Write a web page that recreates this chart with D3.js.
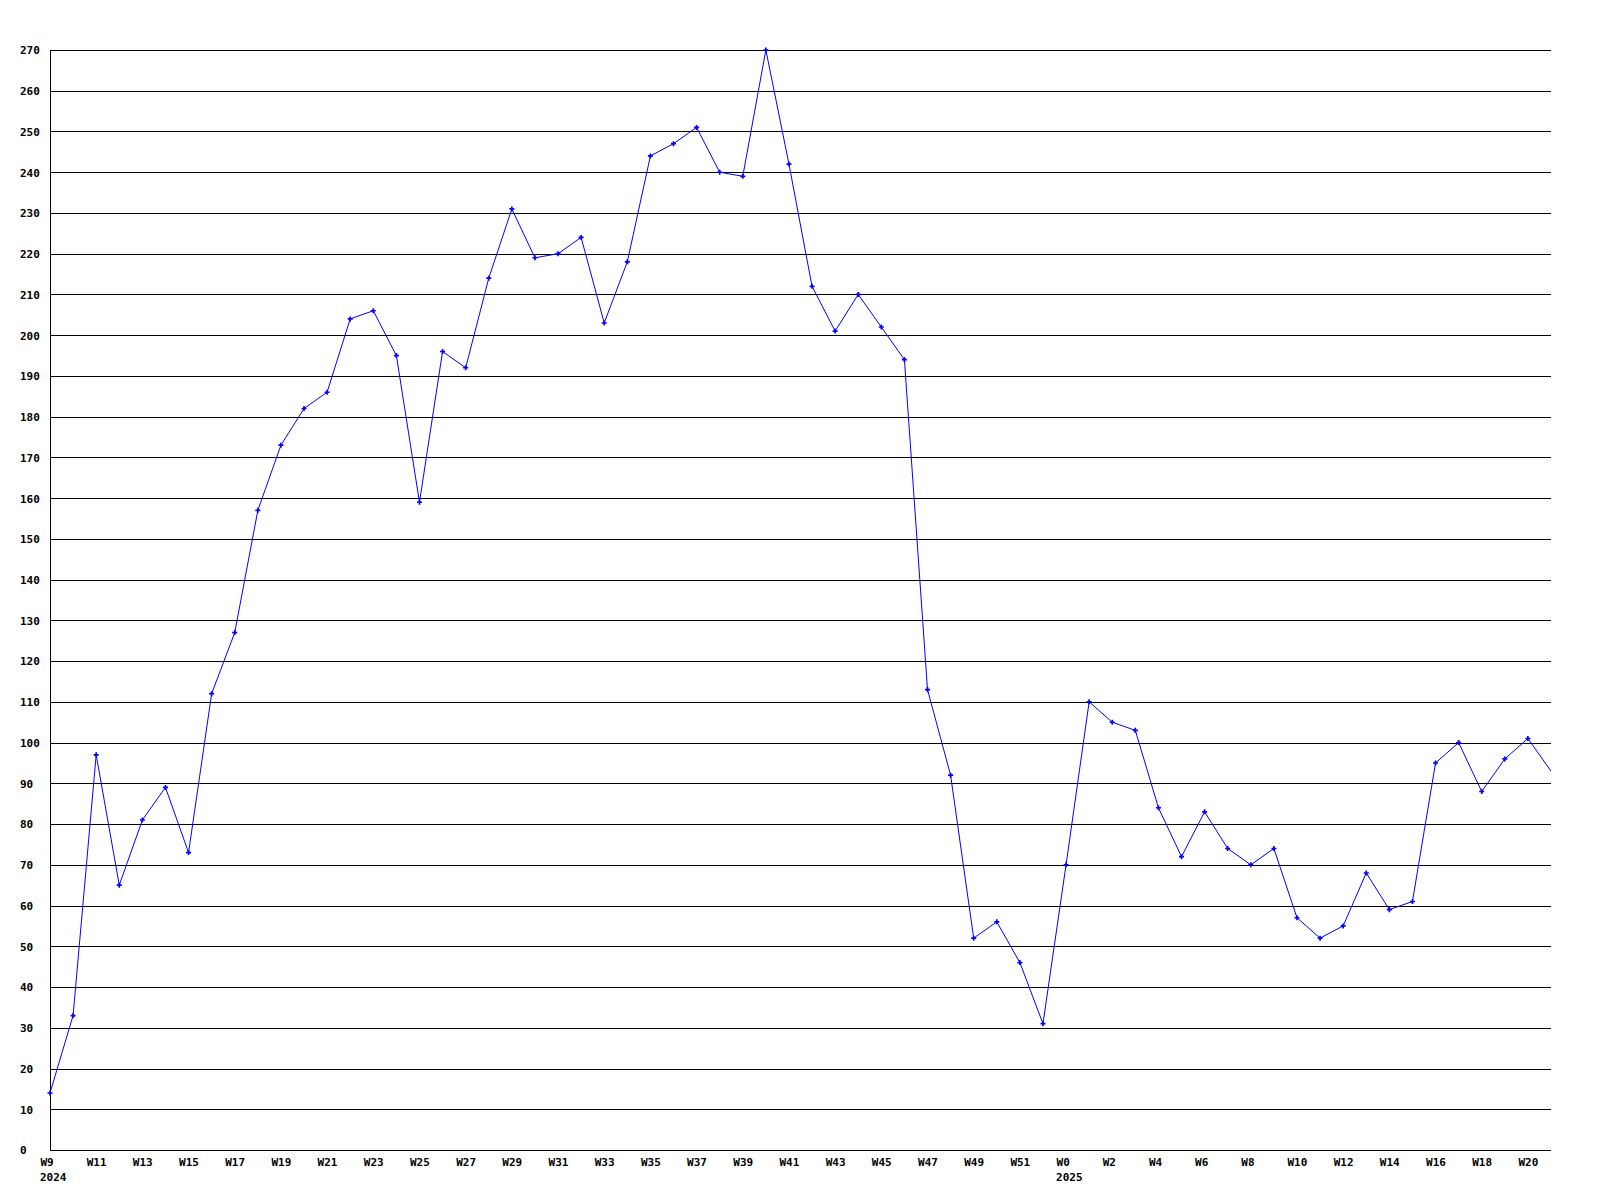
<!DOCTYPE html>
<html>
<head>
<meta charset="utf-8">
<script src="https://cdn.jsdelivr.net/npm/d3@7"></script>
<style>
  html, body { margin: 0; padding: 0; background: #ffffff; }
  svg { display: block; }
  text { font-family: "DejaVu Sans Mono", "Liberation Mono", monospace; font-weight: bold; font-size: 11px; fill: #000; }
</style>
</head>
<body>
<svg id="chart" width="1600" height="1200"></svg>
<script>
// ---- data ----
const weeks = [
  "W9","W10","W11","W12","W13","W14","W15","W16","W17","W18","W19","W20","W21","W22","W23","W24",
  "W25","W26","W27","W28","W29","W30","W31","W32","W33","W34","W35","W36","W37","W38","W39","W40",
  "W41","W42","W43","W44","W45","W46","W47","W48","W49","W50","W51","W52",
  "W0","W1","W2","W3","W4","W5","W6","W7","W8","W9","W10","W11","W12","W13","W14","W15","W16",
  "W17","W18","W19","W20","W21"
];
const values = [
  14,33,97,65,81,89,73,112,127,157,173,182,186,204,206,195,
  159,196,192,214,231,219,220,224,203,218,244,247,251,240,239,270,
  242,212,201,210,202,194,113,92,52,56,46,31,
  70,110,105,103,84,72,83,74,70,74,57,52,55,68,59,61,95,
  100,88,96,101,93
];
const yearLabels = [ { index: 0, label: "2024" }, { index: 44, label: "2025" } ];
const yTicks = d3.range(0, 271, 10);

// ---- layout ----
const mLeft = 50, mRight = 1551, mTop = 50, mBottom = 1150;
const svg = d3.select("#chart");

const x = d3.scaleLinear().domain([0, weeks.length - 1]).range([mLeft, mRight]);
const y = d3.scaleLinear().domain([0, 270]).range([mBottom, mTop]);

// y gridlines + labels
const yAxis = d3.axisLeft(y)
  .tickValues(yTicks)
  .tickSizeInner(-(mRight - mLeft))
  .tickSizeOuter(0)
  .tickFormat(d3.format("d"));
const gy = svg.append("g").attr("transform", `translate(${mLeft},0)`).call(yAxis);
gy.select(".domain").remove();
gy.selectAll(".tick line").attr("stroke", "#000").attr("stroke-width", 1).attr("shape-rendering", "crispEdges");
gy.selectAll(".tick text").attr("x", 20 - mLeft).attr("text-anchor", "start").attr("dy", "0.35em");

// left axis line
svg.append("line")
  .attr("x1", mLeft).attr("x2", mLeft).attr("y1", mTop).attr("y2", mBottom)
  .attr("stroke", "#000").attr("shape-rendering", "crispEdges");

// x axis labels
const xTickIdx = d3.range(0, weeks.length, 2);
const xAxis = d3.axisBottom(x)
  .tickValues(xTickIdx)
  .tickSize(0)
  .tickFormat(i => weeks[i]);
const gx = svg.append("g").attr("transform", `translate(0,${mBottom})`).call(xAxis);
gx.select(".domain").remove();
gx.selectAll(".tick").filter(i => x(i) > mRight - 5).remove();
gx.selectAll(".tick text").attr("text-anchor", "start").attr("x", -10).attr("y", 8).attr("dy", "0.71em");

svg.append("g").selectAll("text").data(yearLabels).join("text")
  .attr("x", d => x(d.index) - 10)
  .attr("y", mBottom + 23)
  .attr("dy", "0.71em")
  .text(d => d.label);

// line
const data = values.map((v, i) => ({ i, v }));
svg.append("path")
  .datum(data)
  .attr("fill", "none")
  .attr("stroke", "#0000ff")
  .attr("stroke-width", 1)
  .attr("d", d3.line().x(d => x(d.i)).y(d => y(d.v)));

// markers
const sym = d3.symbol().type(d3.symbolCross).size(14);
svg.append("g").selectAll("path").data(data.filter(d => x(d.i) < mRight - 1)).join("path")
  .attr("transform", d => `translate(${x(d.i)},${y(d.v)})`)
  .attr("d", sym)
  .attr("fill", "#0000ff");
</script>
</body>
</html>
